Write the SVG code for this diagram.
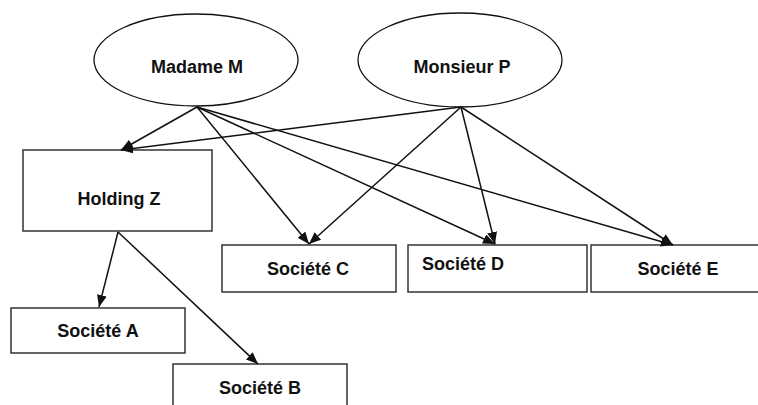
<svg xmlns="http://www.w3.org/2000/svg" width="758" height="405" viewBox="0 0 758 405">
<style>
.n{fill:#fff;stroke:#333;stroke-width:1.5}
.e{fill:#fff;stroke:#111;stroke-width:1.3}
.t{font-family:"Liberation Sans",Arial,sans-serif;font-weight:bold;font-size:18px;fill:#111;text-anchor:middle}
.c line{stroke:#111;stroke-width:1.5;marker-end:url(#ah)}
</style>
<defs>
<marker id="ah" markerUnits="userSpaceOnUse" markerWidth="13" markerHeight="10" refX="12" refY="5" orient="auto">
<path d="M0,0 L12,5 L0,10 z" fill="#111"/>
</marker>
</defs>
<rect width="758" height="405" fill="#fff"/>
<g id="madame-m"><ellipse class="e" cx="196" cy="60" rx="102" ry="46"/><text class="t" x="197" y="73">Madame M</text></g>
<g id="monsieur-p"><ellipse class="e" cx="460" cy="60" rx="102" ry="47"/><text class="t" x="462" y="73">Monsieur P</text></g>
<g id="holding-z"><rect class="n" x="23" y="150" width="189" height="81"/><text class="t" x="119" y="205">Holding Z</text></g>
<g id="societe-a"><rect class="n" x="11" y="308" width="174" height="45"/><text class="t" x="98" y="337">Société A</text></g>
<g id="societe-b"><rect class="n" x="173" y="364" width="174" height="50"/><text class="t" x="260" y="394">Société B</text></g>
<g id="societe-c"><rect class="n" x="222" y="245" width="174" height="47"/><text class="t" x="308" y="275">Société C</text></g>
<g id="societe-d"><rect class="n" x="408" y="245" width="179" height="47"/><text class="t" x="463" y="270">Société D</text></g>
<g id="societe-e"><rect class="n" x="591" y="245" width="170" height="47"/><text class="t" x="678" y="275">Société E</text></g>
<g class="c" id="connectors">
<line x1="197" y1="107" x2="121" y2="150"/>
<line x1="197" y1="107" x2="309" y2="244"/>
<line x1="197" y1="107" x2="495" y2="244"/>
<line x1="197" y1="107" x2="673" y2="245"/>
<line x1="461" y1="107" x2="121" y2="150"/>
<line x1="461" y1="107" x2="309" y2="244"/>
<line x1="461" y1="107" x2="495" y2="244"/>
<line x1="461" y1="107" x2="673" y2="245"/>
<line x1="118" y1="232" x2="99" y2="307"/>
<line x1="118" y1="232" x2="258" y2="364"/>
</g>
</svg>
